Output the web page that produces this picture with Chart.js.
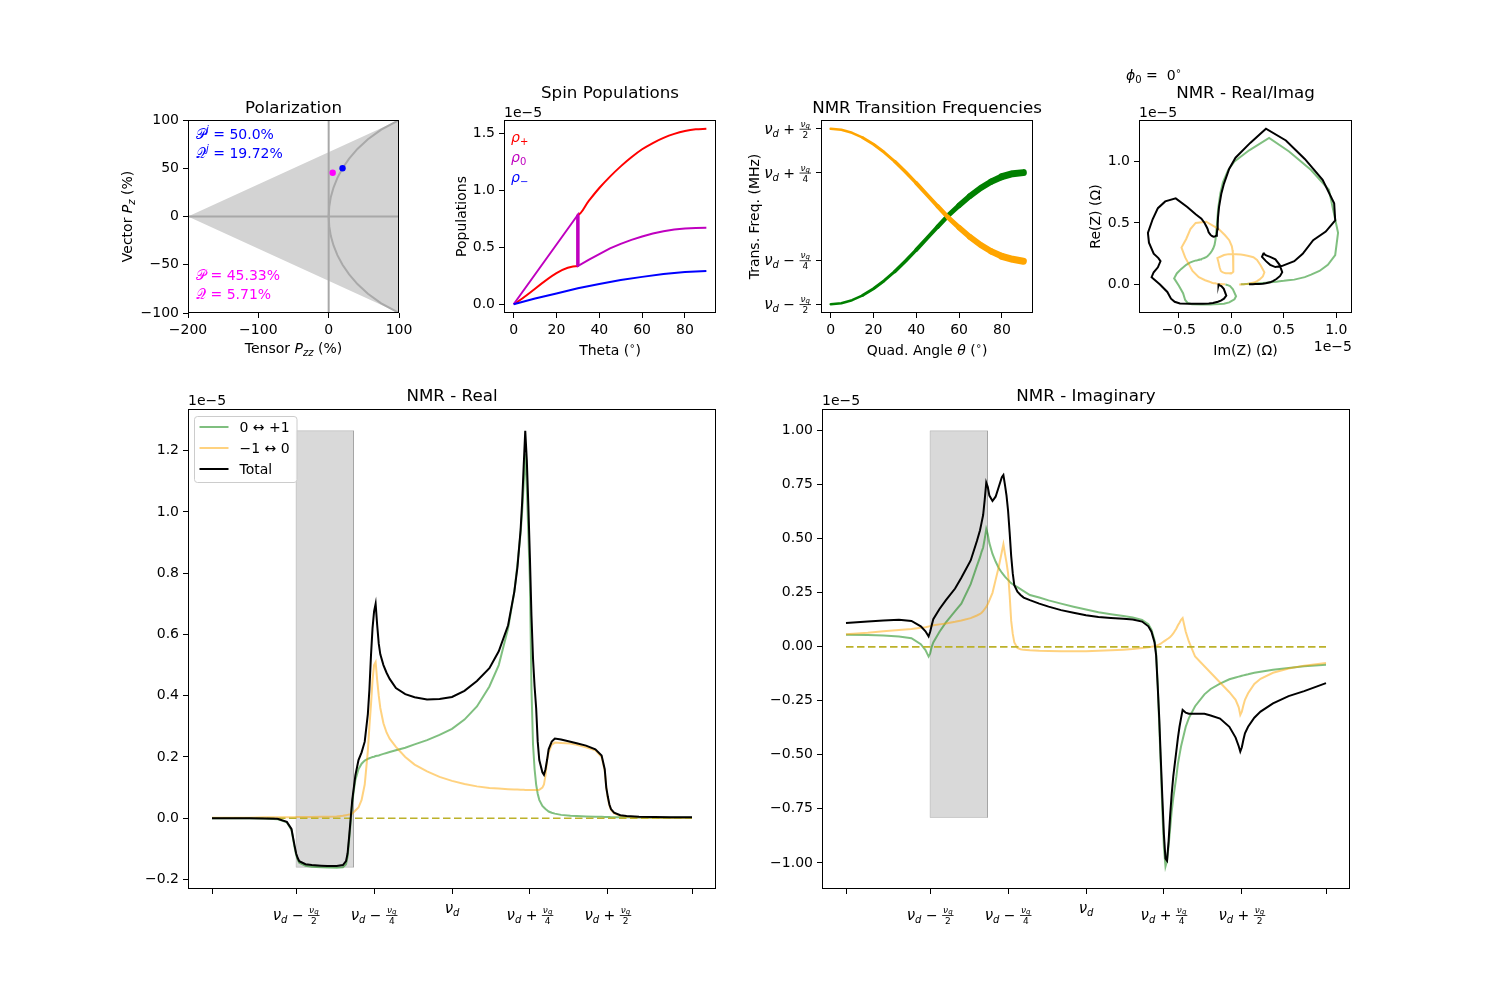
<!DOCTYPE html>
<html>
<head>
<meta charset="utf-8">
<script src="https://cdn.jsdelivr.net/npm/chart.js@4.4.1/dist/chart.umd.min.js"></script>
<style>
html, body { margin: 0; padding: 0; background: #fff; }
#fig { position: relative; width: 1500px; height: 1000px; }
#fig canvas { position: absolute; left: 0; top: 0; }
</style>
</head>
<body>
<div id="fig">
  <canvas id="pol" width="1500" height="1000"></canvas>
  <canvas id="pop" width="1500" height="1000"></canvas>
  <canvas id="freq" width="1500" height="1000"></canvas>
  <canvas id="ri" width="1500" height="1000"></canvas>
  <canvas id="real" width="1500" height="1000"></canvas>
  <canvas id="imag" width="1500" height="1000"></canvas>
</div>
<script>
// ---------- data ----------
// polarization panel (x = tensor Pzz %, y = vector Pz %)
const POL_TRI_X = [-200, 100, 100, -200];
const POL_TRI_Y = [0, 100, -100, 0];
const POL_CURVE_PZ = [-100, -90, -80, -70, -60, -50, -40, -30, -20, -10, 0, 10, 20, 30, 40, 50, 60, 70, 80, 90, 100];
const POL_CURVE_PZZ = [100, 74.7, 55.8, 40.9, 29.1, 19.7, 12.4, 6.9, 3.0, 0.8, 0, 0.8, 3.0, 6.9, 12.4, 19.7, 29.1, 40.9, 55.8, 74.7, 100];
const POL_J = [19.72, 50];
const POL_NOW = [5.71, 45.33];

// spin populations (1e-5)
const THETA_LIN = [0, 30];
const THETA_CURVE = [30, 35, 40, 45, 50, 55, 60, 65, 70, 75, 80, 85, 90];
const RHO_PLUS_LIN = [0, 0.335];
const RHO_PLUS = [0.785, 0.905, 1.02, 1.12, 1.21, 1.29, 1.36, 1.415, 1.46, 1.495, 1.52, 1.535, 1.54];
const RHO_ZERO_LIN = [0, 0.785];
const RHO_ZERO = [0.335, 0.39, 0.44, 0.49, 0.53, 0.565, 0.595, 0.62, 0.64, 0.655, 0.665, 0.67, 0.672];
const THETA_MINUS = [0, 10, 20, 30, 40, 50, 60, 70, 80, 90];
const RHO_MINUS = [0, 0.05, 0.095, 0.14, 0.178, 0.212, 0.24, 0.265, 0.283, 0.292];

// transition frequencies (units of nu_q, relative to nu_d)
const QUAD_ANGLE = [0, 5, 10, 15, 20, 25, 30, 35, 40, 45, 50, 55, 60, 65, 70, 75, 80, 85, 90];
const FREQ_01 = [-0.5, -0.494, -0.477, -0.449, -0.412, -0.366, -0.313, -0.254, -0.19, -0.124, -0.058, 0.007, 0.063, 0.116, 0.162, 0.199, 0.227, 0.244, 0.25];
const FREQ_M10 = [0.5, 0.494, 0.477, 0.449, 0.412, 0.366, 0.313, 0.254, 0.19, 0.124, 0.058, -0.007, -0.063, -0.116, -0.162, -0.199, -0.227, -0.244, -0.255];
const BAND_PX = [2.5, 2.5, 2.5, 2.5, 3, 3, 3, 3.5, 3.5, 4, 4, 4.5, 5, 5.5, 6, 6, 6.5, 7, 7];

// NMR signal (1e-5) on a shared frequency grid (units of nu_q, relative to nu_d)
const FREQ = [
  -0.77, -0.7, -0.65, -0.6, -0.56, -0.53, -0.515, -0.505, -0.5, -0.495,
  -0.49, -0.47, -0.45, -0.42, -0.4, -0.37, -0.35, -0.34, -0.335, -0.33,
  -0.325, -0.32, -0.315, -0.31, -0.3, -0.29, -0.28, -0.27, -0.265, -0.26,
  -0.255, -0.25, -0.245, -0.24, -0.235, -0.23, -0.22, -0.21, -0.2, -0.18,
  -0.15, -0.12, -0.08, -0.04, 0, 0.04, 0.08, 0.12, 0.15, 0.18,
  0.2, 0.21, 0.22, 0.225, 0.23, 0.235, 0.24, 0.245, 0.25, 0.255,
  0.26, 0.265, 0.27, 0.275, 0.28, 0.29, 0.295, 0.3, 0.305, 0.31,
  0.32, 0.33, 0.35, 0.38, 0.4, 0.43, 0.46, 0.48, 0.49, 0.495,
  0.5, 0.505, 0.51, 0.52, 0.54, 0.56, 0.6, 0.65, 0.7, 0.77];
const REAL_01 = [
  0, 0, 0, -0.001, -0.003, -0.013, -0.038, -0.095, -0.12, -0.135,
  -0.145, -0.155, -0.158, -0.16, -0.161, -0.162, -0.16, -0.15, -0.125, -0.07,
  -0.01, 0.05, 0.09, 0.125, 0.16, 0.178, 0.188, 0.194, 0.196, 0.198,
  0.2, 0.201, 0.203, 0.204, 0.205, 0.207, 0.21, 0.213, 0.216, 0.222,
  0.23, 0.241, 0.255, 0.272, 0.292, 0.322, 0.365, 0.43, 0.5, 0.62,
  0.74, 0.83, 0.93, 1.0, 1.09, 1.19, 1.08, 0.93, 0.77, 0.42,
  0.24, 0.16, 0.11, 0.08, 0.06, 0.04, 0.035, 0.03, 0.026, 0.022,
  0.018, 0.015, 0.011, 0.008, 0.007, 0.006, 0.005, 0.0045, 0.004, 0.004,
  0.004, 0.004, 0.0035, 0.0035, 0.003, 0.003, 0.0025, 0.002, 0.002, 0.002];
const REAL_M10 = [
  0.002, 0.002, 0.002, 0.003, 0.003, 0.003, 0.003, 0.003, 0.004, 0.004,
  0.004, 0.004, 0.004, 0.005, 0.005, 0.006, 0.008, 0.01, 0.011, 0.012,
  0.013, 0.015, 0.02, 0.025, 0.035, 0.06, 0.11, 0.22, 0.3, 0.37,
  0.45, 0.5, 0.51, 0.45, 0.4, 0.36, 0.31, 0.28, 0.26, 0.233,
  0.2, 0.175, 0.153, 0.135, 0.122, 0.112, 0.104, 0.099, 0.097, 0.095,
  0.094, 0.094, 0.093, 0.093, 0.093, 0.092, 0.092, 0.092, 0.092, 0.092,
  0.092, 0.092, 0.092, 0.092, 0.093, 0.1, 0.11, 0.14, 0.19, 0.215,
  0.24, 0.247, 0.246, 0.244, 0.24, 0.232, 0.222, 0.2, 0.155, 0.1,
  0.065, 0.042, 0.028, 0.016, 0.008, 0.005, 0.003, 0.002, 0.001, 0.001];
const REAL_TOTAL = [
  0, 0, 0, -0.001, -0.002, -0.012, -0.035, -0.09, -0.115, -0.13,
  -0.14, -0.15, -0.153, -0.155, -0.156, -0.156, -0.153, -0.14, -0.115, -0.06,
  0.0, 0.06, 0.1, 0.14, 0.19, 0.215, 0.25, 0.34, 0.42, 0.53,
  0.62, 0.675, 0.7, 0.63, 0.57, 0.535, 0.5, 0.475, 0.455, 0.425,
  0.405, 0.395, 0.388, 0.389, 0.396, 0.416, 0.448, 0.49, 0.545, 0.63,
  0.74, 0.82, 0.94, 1.03, 1.15, 1.265, 1.17, 1.02, 0.85, 0.66,
  0.52, 0.43, 0.36, 0.25, 0.19, 0.15, 0.142, 0.16, 0.19, 0.225,
  0.25, 0.26, 0.257, 0.25, 0.245, 0.237, 0.225, 0.205, 0.16, 0.1,
  0.07, 0.045, 0.03, 0.018, 0.01, 0.007, 0.005, 0.004, 0.003, 0.003];
const IMAG_01 = [
  0.056, 0.055, 0.052, 0.048, 0.04, 0.012, -0.015, -0.045, -0.03, 0.0,
  0.02, 0.07, 0.112, 0.165, 0.2, 0.29, 0.375, 0.415, 0.44, 0.46,
  0.5, 0.545, 0.52, 0.48, 0.43, 0.395, 0.365, 0.343, 0.334, 0.325,
  0.317, 0.31, 0.302, 0.295, 0.29, 0.285, 0.276, 0.267, 0.258, 0.24,
  0.228, 0.215, 0.2, 0.186, 0.173, 0.16, 0.151, 0.143, 0.136, 0.125,
  0.105, 0.08, 0.03, -0.03, -0.17, -0.36, -0.55, -0.76, -0.93, -1.017,
  -0.99, -0.92, -0.84, -0.76, -0.7, -0.6, -0.54, -0.5, -0.46, -0.43,
  -0.37, -0.33, -0.275, -0.22, -0.195, -0.17, -0.15, -0.142, -0.138, -0.136,
  -0.134, -0.132, -0.13, -0.127, -0.12, -0.115, -0.106, -0.098, -0.09, -0.083];
const IMAG_M10 = [
  0.058, 0.065, 0.072, 0.078, 0.083, 0.088, 0.091, 0.094, 0.096, 0.098,
  0.1, 0.104, 0.108, 0.116, 0.122, 0.133, 0.145, 0.152, 0.158, 0.165,
  0.175, 0.185, 0.198, 0.215, 0.25, 0.31, 0.37, 0.44, 0.475, 0.43,
  0.39, 0.34, 0.24, 0.12, 0.06, 0.02, -0.005, -0.011, -0.014, -0.016,
  -0.018, -0.019, -0.02, -0.02, -0.02, -0.018, -0.016, -0.013, -0.01, -0.005,
  -0.002, 0.0, 0.003, 0.005, 0.008, 0.011, 0.015, 0.02, 0.025, 0.03,
  0.035, 0.04, 0.046, 0.053, 0.062, 0.085, 0.1, 0.112, 0.125, 0.133,
  0.07, 0.025, -0.045, -0.09, -0.12, -0.165, -0.21, -0.245, -0.28, -0.315,
  -0.3, -0.27, -0.245, -0.215, -0.172, -0.148, -0.12, -0.1, -0.087, -0.075];
const IMAG_TOTAL = [
  0.11, 0.117, 0.122, 0.125, 0.12, 0.095, 0.072, 0.048, 0.07, 0.1,
  0.128, 0.175, 0.215, 0.27, 0.32, 0.4, 0.49, 0.54, 0.575, 0.61,
  0.68, 0.76, 0.74, 0.7, 0.675, 0.695, 0.74, 0.785, 0.795, 0.75,
  0.7, 0.63, 0.53, 0.42, 0.34, 0.285, 0.255, 0.24, 0.228, 0.216,
  0.2, 0.186, 0.17, 0.158, 0.146, 0.138, 0.134, 0.13, 0.127, 0.117,
  0.095, 0.07, 0.02, -0.04, -0.18, -0.33, -0.52, -0.7, -0.87, -0.98,
  -0.99, -0.9, -0.78, -0.68, -0.6, -0.48, -0.42, -0.37, -0.33, -0.292,
  -0.305, -0.31, -0.31, -0.31, -0.318, -0.332, -0.37, -0.42, -0.46, -0.485,
  -0.465, -0.43, -0.4, -0.37, -0.328, -0.3, -0.262, -0.228, -0.205, -0.168];

// shaded window and zero line
const WIN_X = [-0.5, -0.316];
const WIN_RE_Y = [-0.16, 1.265];
const WIN_IM_Y = [-0.79, 1.0];
const ZERO_X = [-0.77, 0.77];

// tick values
const NU_TICKS = [-0.77, -0.5, -0.25, 0, 0.25, 0.5, 0.77];
const NU_LABELS = [null, {s: '\u2212', d: 2}, {s: '\u2212', d: 4}, {}, {s: '+', d: 4}, {s: '+', d: 2}, null];
const NU_Y_TICKS = [-0.5, -0.25, 0.25, 0.5];
const NU_Y_LABELS = [{s: '\u2212', d: 2}, {s: '\u2212', d: 4}, {s: '+', d: 4}, {s: '+', d: 2}];

// ---------- helpers ----------
const FAM = '"DejaVu Sans"';
const F14 = '14px ' + FAM, I14 = 'italic 14px ' + FAM, F10 = '10px ' + FAM, I10 = 'italic 10px ' + FAM;
const FT = '16.7px ' + FAM;
const YW = 70, XH = 40;
const GREEN = 'rgba(0,128,0,0.5)', ORANGE = 'rgba(255,165,0,0.5)', PURPLE = '#bf00bf';

const fmt = d => v => (v < 0 ? '\u2212' : '') + Math.abs(v).toFixed(d);
const blank = () => '';
const xy = (xs, ys) => xs.map((x, i) => ({x, y: ys[i]}));

function axis(dir, min, max, vals, cb) {
  return {
    type: 'linear', min, max,
    afterBuildTicks: s => { s.ticks = vals.map(v => ({value: v})); },
    afterFit: s => {
      if (dir === 'x') { s.height = XH; s.paddingLeft = 0; s.paddingRight = 0; }
      else { s.width = YW; s.paddingTop = 0; s.paddingBottom = 0; }
    },
    grid: {drawOnChartArea: false, drawTicks: true, tickLength: 5, tickColor: '#000', lineWidth: 1},
    border: {display: false},
    ticks: {autoSkip: false, maxRotation: 0, minRotation: 0, padding: 4, color: '#000',
            font: {family: 'DejaVu Sans', size: 14}, callback: cb}
  };
}

function line(pts, color, width, order, extra) {
  return Object.assign({data: pts, borderColor: color, borderWidth: width, pointRadius: 0,
    showLine: true, fill: false, tension: 0, order}, extra || {});
}

// draw a run of text pieces [text, font, dy]
function txt(ctx, segs, x, y, align, color, rot) {
  ctx.save();
  ctx.fillStyle = color || '#000';
  ctx.textAlign = 'left';
  ctx.textBaseline = 'alphabetic';
  let w = 0;
  const ws = segs.map(s => { ctx.font = s[1]; const m = ctx.measureText(s[0]).width; w += m; return m; });
  ctx.translate(x, y);
  if (rot) ctx.rotate(rot);
  let cx = align === 'center' ? -w / 2 : align === 'right' ? -w : 0;
  segs.forEach((s, i) => { ctx.font = s[1]; ctx.fillText(s[0], cx, s[2] || 0); cx += ws[i]; });
  ctx.restore();
}

// nu_d (+/-) nu_q/den tick label
function nu(ctx, lab, x, base, align) {
  ctx.save();
  ctx.fillStyle = '#000';
  ctx.textAlign = 'left';
  ctx.textBaseline = 'alphabetic';
  ctx.font = 'italic 15px ' + FAM; const w1 = ctx.measureText('\u03bd').width;
  ctx.font = I10; const w2 = ctx.measureText('d').width;
  let w3 = 0, wn = 0, wq = 0, wf = 0;
  if (lab.d) {
    ctx.font = F14; w3 = ctx.measureText(' ' + lab.s + ' ').width;
    ctx.font = 'italic 9px ' + FAM; wn = ctx.measureText('\u03bd').width;
    ctx.font = 'italic 7px ' + FAM; wq = ctx.measureText('q').width;
    wf = wn + wq + 2;
  }
  const total = w1 + w2 + w3 + wf;
  let cx = align === 'right' ? x - total : x - total / 2;
  ctx.font = 'italic 15px ' + FAM; ctx.fillText('\u03bd', cx, base); cx += w1;
  ctx.font = I10; ctx.fillText('d', cx, base + 3); cx += w2;
  if (lab.d) {
    ctx.font = F14; ctx.fillText(' ' + lab.s + ' ', cx, base); cx += w3;
    const bar = base - 5;
    ctx.fillRect(cx, bar, wf, 0.8);
    ctx.font = 'italic 9px ' + FAM; ctx.fillText('\u03bd', cx + 1, bar - 2);
    ctx.font = 'italic 7px ' + FAM; ctx.fillText('q', cx + 1 + wn, bar - 1);
    ctx.font = '9px ' + FAM; ctx.textAlign = 'center'; ctx.fillText(String(lab.d), cx + wf / 2, bar + 9);
  }
  ctx.restore();
}

function frame(ctx, a) {
  ctx.save();
  ctx.strokeStyle = '#000';
  ctx.lineWidth = 1;
  ctx.strokeRect(a.left + 0.5, a.top + 0.5, a.right - a.left - 1, a.bottom - a.top - 1);
  ctx.restore();
}

function make(id, box, scales, datasets, draw) {
  return new Chart(document.getElementById(id), {
    type: 'scatter',
    data: {datasets},
    options: {
      responsive: false, animation: false, devicePixelRatio: 1, events: [],
      layout: {padding: {left: box.l - YW, top: box.t, right: 1500 - box.r, bottom: 1000 - box.b - XH}},
      scales,
      plugins: {legend: {display: false}, tooltip: {enabled: false}}
    },
    plugins: [{id: 'deco_' + id, afterDraw(chart) {
      const ctx = chart.ctx, a = chart.chartArea;
      frame(ctx, a);
      draw(ctx, a, chart.scales);
    }}]
  });
}

// ---------- Polarization ----------
make('pol', {l: 188, t: 120, r: 399, b: 313}, {
  x: axis('x', -200, 100, [-200, -100, 0, 100], fmt(0)),
  y: axis('y', -100, 100, [-100, -50, 0, 50, 100], fmt(0))
}, [
  line(xy(POL_TRI_X, POL_TRI_Y), '#d3d3d3', 0, 6, {fill: 'shape', backgroundColor: '#d3d3d3'}),
  line(xy([-200, 100], [0, 0]), '#a8a8a8', 2, 5),
  line(xy([0, 0], [-100, 100]), '#a8a8a8', 2, 4),
  line(xy(POL_CURVE_PZZ, POL_CURVE_PZ), '#a9a9a9', 2, 3),
  {data: [{x: POL_J[0], y: POL_J[1]}], pointRadius: 3.2, backgroundColor: '#0000ff', borderWidth: 0, order: 1},
  {data: [{x: POL_NOW[0], y: POL_NOW[1]}], pointRadius: 3.2, backgroundColor: '#ff00ff', borderWidth: 0, order: 2}
], (ctx, a) => {
  const cx = (a.left + a.right) / 2;
  txt(ctx, [['Polarization', FT]], cx, a.top - 7.5, 'center');
  txt(ctx, [['Tensor ', F14], ['P', I14], ['zz', I10, 3], [' (%)', F14]], cx, 353, 'center');
  txt(ctx, [['Vector ', F14], ['P', I14], ['z', I10, 3], [' (%)', F14]], 132, (a.top + a.bottom) / 2, 'center', '#000', -Math.PI / 2);
  const CAL = '14px "DejaVu Sans", "DejaVu Serif", serif';
  txt(ctx, [['\u{1D4AB}', CAL], ['j', I10, -6], [' = 50.0%', F14]], a.left + 8, 139, 'left', '#0000ff');
  txt(ctx, [['\u{1D4AC}', CAL], ['j', I10, -6], [' = 19.72%', F14]], a.left + 8, 158, 'left', '#0000ff');
  txt(ctx, [['\u{1D4AB}', CAL], [' = 45.33%', F14]], a.left + 8, 280, 'left', '#ff00ff');
  txt(ctx, [['\u{1D4AC}', CAL], [' = 5.71%', F14]], a.left + 8, 299, 'left', '#ff00ff');
});

// ---------- Spin Populations ----------
make('pop', {l: 504, t: 120, r: 716, b: 313}, {
  x: axis('x', -4.5, 94.5, [0, 20, 40, 60, 80], fmt(0)),
  y: axis('y', -0.077, 1.617, [0, 0.5, 1.0, 1.5], fmt(1))
}, [
  line(xy(THETA_LIN.concat(THETA_CURVE), RHO_PLUS_LIN.concat(RHO_PLUS)), '#ff0000', 2, 4, {cubicInterpolationMode: 'monotone'}),
  line(xy(THETA_LIN.concat(THETA_CURVE), RHO_ZERO_LIN.concat(RHO_ZERO)), PURPLE, 2, 3),
  line(xy([30, 30], [RHO_ZERO[0], RHO_PLUS[0]]), PURPLE, 3.5, 2),
  line(xy(THETA_MINUS, RHO_MINUS), '#0000ff', 2, 1)
], (ctx, a) => {
  const cx = (a.left + a.right) / 2;
  txt(ctx, [['Spin Populations', FT]], cx, 97.5, 'center');
  txt(ctx, [['1e\u22125', F14]], a.left, 116.5, 'left');
  txt(ctx, [['Theta (', F14], ['\u2218', F10, -6], [')', F14]], cx, 355, 'center');
  txt(ctx, [['Populations', F14]], 466, (a.top + a.bottom) / 2, 'center', '#000', -Math.PI / 2);
  txt(ctx, [['\u03c1', I14], ['+', F10, 3]], a.left + 7, 142, 'left', '#ff0000');
  txt(ctx, [['\u03c1', I14], ['0', F10, 3]], a.left + 7, 162, 'left', PURPLE);
  txt(ctx, [['\u03c1', I14], ['\u2212', F10, 3]], a.left + 7, 182, 'left', '#0000ff');
});

// ---------- Transition frequencies ----------
make('freq', {l: 821, t: 120, r: 1033, b: 313}, {
  x: axis('x', -4.5, 94.5, [0, 20, 40, 60, 80], fmt(0)),
  y: axis('y', -0.55, 0.55, NU_Y_TICKS, blank)
}, [
  line(xy(QUAD_ANGLE, FREQ_01), '#008000', 3, 2, {borderCapStyle: 'round', borderJoinStyle: 'round',
    segment: {borderWidth: c => BAND_PX[c.p1DataIndex]}}),
  line(xy(QUAD_ANGLE, FREQ_M10), '#ffa500', 3, 1, {borderCapStyle: 'round', borderJoinStyle: 'round',
    segment: {borderWidth: c => BAND_PX[c.p1DataIndex]}})
], (ctx, a, s) => {
  const cx = (a.left + a.right) / 2;
  txt(ctx, [['NMR Transition Frequencies', FT]], cx, a.top - 7.5, 'center');
  txt(ctx, [['Quad. Angle ', F14], ['\u03b8', I14], [' (', F14], ['\u2218', F10, -6], [')', F14]], cx, 355, 'center');
  txt(ctx, [['Trans. Freq. (MHz)', F14]], 759, (a.top + a.bottom) / 2, 'center', '#000', -Math.PI / 2);
  NU_Y_TICKS.forEach((v, i) => nu(ctx, NU_Y_LABELS[i], a.left - 10, s.y.getPixelForValue(v) + 5, 'right'));
});

// ---------- Real vs Imag ----------
const negate = arr => arr.map(v => -v);
make('ri', {l: 1139, t: 120, r: 1352, b: 313}, {
  x: axis('x', -0.88, 1.15, [-0.5, 0, 0.5, 1.0], fmt(1)),
  y: axis('y', -0.231, 1.336, [0, 0.5, 1.0], fmt(1))
}, [
  line(xy(negate(IMAG_01), REAL_01), GREEN, 2, 3),
  line(xy(negate(IMAG_M10), REAL_M10), ORANGE, 2, 2),
  line(xy(negate(IMAG_TOTAL), REAL_TOTAL), '#000', 2, 1)
], (ctx, a) => {
  const cx = (a.left + a.right) / 2;
  txt(ctx, [['NMR - Real/Imag', FT]], cx, 97.5, 'center');
  txt(ctx, [['\u03d5', I14], ['0', F10, 3], [' =  0', F14], ['\u2218', F10, -6]], 1126, 80, 'left');
  txt(ctx, [['1e\u22125', F14]], a.left, 116.5, 'left');
  txt(ctx, [['1e\u22125', F14]], a.right, 351, 'right');
  txt(ctx, [['Im(Z) (\u03a9)', F14]], cx, 355, 'center');
  txt(ctx, [['Re(Z) (\u03a9)', F14]], 1100, (a.top + a.bottom) / 2, 'center', '#000', -Math.PI / 2);
});

// ---------- bottom panels ----------
function winBox(ys) {
  return line(xy([WIN_X[0], WIN_X[0], WIN_X[1], WIN_X[1], WIN_X[0]], [ys[0], ys[1], ys[1], ys[0], ys[0]]),
    'rgba(128,128,128,0.3)', 1, 9, {fill: 'shape', backgroundColor: 'rgba(128,128,128,0.3)'});
}
function nuAxis(ctx, a, s) {
  NU_TICKS.forEach((v, i) => {
    const lab = NU_LABELS[i];
    if (!lab) return;
    nu(ctx, lab, s.x.getPixelForValue(v), a.bottom + (lab.d ? 31 : 24), 'center');
  });
}
const ZERO_LINE = () => line(xy(ZERO_X, [0, 0]), '#bcb12a', 1.6, 2, {borderDash: [7.5, 3.5]});

make('real', {l: 188, t: 409, r: 716, b: 889}, {
  x: axis('x', -0.847, 0.847, NU_TICKS, blank),
  y: axis('y', -0.231, 1.336, [-0.2, 0, 0.2, 0.4, 0.6, 0.8, 1.0, 1.2], fmt(1))
}, [
  winBox(WIN_RE_Y),
  line(xy(FREQ, REAL_01), GREEN, 2, 5),
  line(xy(FREQ, REAL_M10), ORANGE, 2, 4),
  ZERO_LINE(),
  line(xy(FREQ, REAL_TOTAL), '#000', 2, 1)
], (ctx, a, s) => {
  txt(ctx, [['NMR - Real', FT]], (a.left + a.right) / 2, 401, 'center');
  txt(ctx, [['1e\u22125', F14]], a.left, 405, 'left');
  nuAxis(ctx, a, s);
  // legend
  ctx.save();
  const lx = a.left + 6.5, ly = a.top + 7.5, lw = 102.5, lh = 66;
  ctx.beginPath();
  ctx.roundRect(lx, ly, lw, lh, 3);
  ctx.fillStyle = 'rgba(255,255,255,0.8)';
  ctx.fill();
  ctx.strokeStyle = '#cccccc';
  ctx.lineWidth = 1;
  ctx.stroke();
  const items = [[GREEN, [['0 \u2194 +1', F14]]], [ORANGE, [['\u22121 \u2194 0', F14]]], ['#000', [['Total', F14]]]];
  items.forEach((it, i) => {
    const y = ly + 10.5 + i * 21;
    ctx.strokeStyle = it[0];
    ctx.lineWidth = 2;
    ctx.beginPath(); ctx.moveTo(lx + 5, y); ctx.lineTo(lx + 34, y); ctx.stroke();
    txt(ctx, it[1], lx + 45, y + 5, 'left');
  });
  ctx.restore();
});

make('imag', {l: 822, t: 409, r: 1350, b: 889}, {
  x: axis('x', -0.847, 0.847, NU_TICKS, blank),
  y: axis('y', -1.121, 1.101, [-1.0, -0.75, -0.5, -0.25, 0, 0.25, 0.5, 0.75, 1.0], fmt(2))
}, [
  winBox(WIN_IM_Y),
  line(xy(FREQ, IMAG_01), GREEN, 2, 5),
  line(xy(FREQ, IMAG_M10), ORANGE, 2, 4),
  ZERO_LINE(),
  line(xy(FREQ, IMAG_TOTAL), '#000', 2, 1)
], (ctx, a, s) => {
  txt(ctx, [['NMR - Imaginary', FT]], (a.left + a.right) / 2, 401, 'center');
  txt(ctx, [['1e\u22125', F14]], a.left, 405, 'left');
  nuAxis(ctx, a, s);
});
</script>
</body>
</html>
